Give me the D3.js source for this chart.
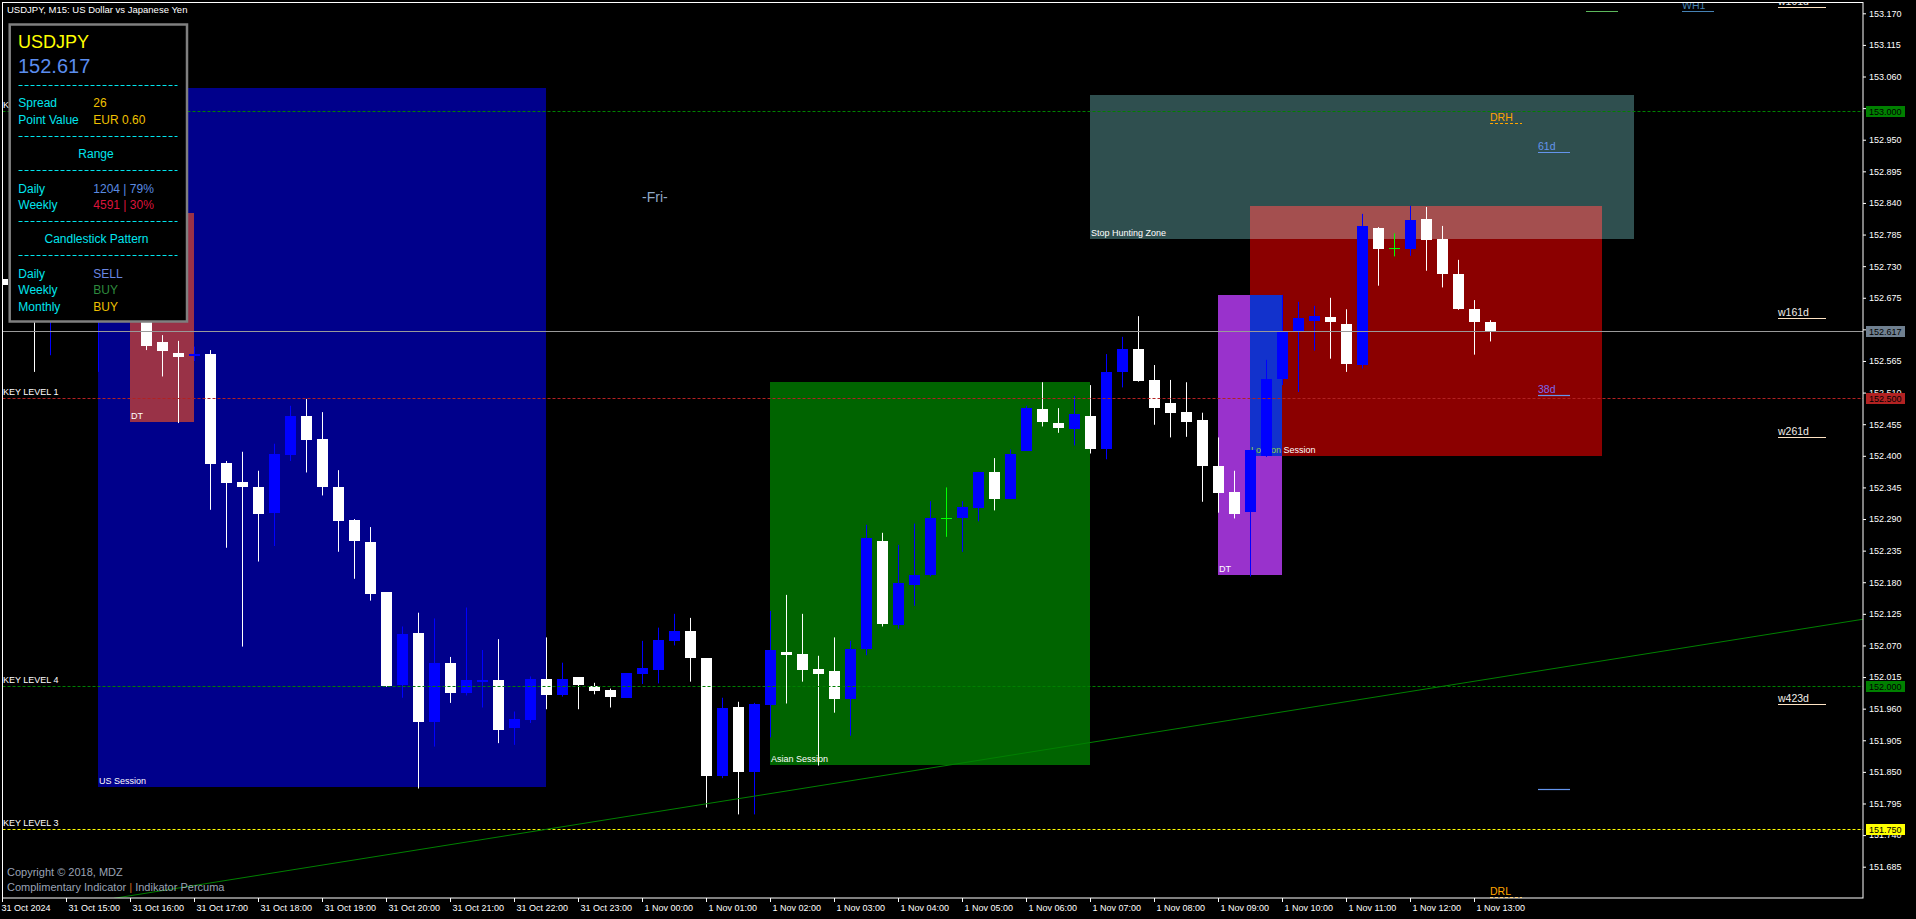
<!DOCTYPE html>
<html>
<head>
<meta charset="utf-8">
<style>
body{margin:0;background:#000;overflow:hidden}
svg{display:block}
text{font-family:"Liberation Sans",Arial,sans-serif}
</style>
</head>
<body>
<script src="https://d3js.org/d3.v7.min.js"></script>
<svg id="chart" width="1916" height="919"></svg>
<script>
// USDJPY M15 bars, 31 Oct 14:00 .. 1 Nov 13:15 (index 0 = 14:00)
const opens = [152.708,152.697,152.720,152.640,152.700,152.668,152.705,152.820,152.850,152.720,
  152.598,152.579,152.574,152.577,152.387,152.355,152.346,152.301,152.401,152.469,
  152.429,152.346,152.288,152.250,152.163,152.001,152.092,151.937,152.040,151.988,
  152.007,152.010,151.927,151.940,152.012,151.984,152.015,151.999,151.992,151.979,
  152.020,152.028,152.078,152.095,152.048,151.842,151.963,151.849,151.967,152.058,
  152.055,152.029,152.026,151.977,152.064,152.252,152.105,152.175,152.193,152.291,
  152.292,152.310,152.372,152.325,152.409,152.481,152.457,152.447,152.469,152.412,
  152.546,152.586,152.532,152.492,152.476,152.462,152.382,152.337,152.303,152.400,
  152.533,152.616,152.635,152.642,152.629,152.558,152.796,152.761,152.760,152.812,
  152.777,152.716,152.655,152.633]
const highs = [152.723,152.735,152.745,152.715,152.735,152.720,152.860,153.040,152.880,152.823,
  152.610,152.600,152.590,152.584,152.391,152.407,152.374,152.421,152.487,152.499,
  152.476,152.375,152.290,152.276,152.163,152.103,152.127,152.117,152.050,152.136,
  152.062,152.081,151.955,152.016,152.084,152.040,152.015,152.005,151.995,152.022,
  152.078,152.101,152.125,152.118,152.048,151.979,151.972,151.970,152.130,152.158,
  152.125,152.052,152.084,152.078,152.280,152.266,152.245,152.282,152.321,152.345,
  152.321,152.372,152.396,152.411,152.487,152.528,152.483,152.504,152.523,152.577,
  152.607,152.643,152.558,152.532,152.528,152.475,152.432,152.374,152.410,152.567,
  152.680,152.668,152.661,152.675,152.655,152.821,152.798,152.787,152.835,152.833,
  152.800,152.741,152.671,152.636]
const lows = [152.685,152.690,152.546,152.575,152.650,152.655,152.546,152.780,152.700,152.584,
  152.538,152.457,152.565,152.306,152.240,152.068,152.216,152.243,152.391,152.371,
  152.331,152.233,152.186,152.148,151.998,151.979,151.821,151.894,151.970,151.983,
  151.962,151.900,151.897,151.935,151.959,151.981,151.959,151.985,151.962,151.979,
  152.003,152.004,152.070,152.007,151.788,151.839,151.776,151.776,151.910,151.969,
  152.007,151.861,151.953,151.913,152.053,152.103,152.099,152.139,152.190,152.259,
  152.233,152.286,152.305,152.325,152.409,152.451,152.440,152.418,152.404,152.394,
  152.519,152.529,152.454,152.432,152.433,152.320,152.301,152.291,152.190,152.398,
  152.523,152.511,152.583,152.569,152.546,152.552,152.696,152.747,152.748,152.722,
  152.693,152.654,152.576,152.599]
const closes = [152.697,152.720,152.640,152.700,152.668,152.705,152.820,152.850,152.720,152.591,
  152.582,152.572,152.578,152.385,152.353,152.345,152.299,152.403,152.469,152.428,
  152.345,152.287,152.251,152.160,152.000,152.090,151.937,152.040,151.988,152.010,
  152.010,151.923,151.942,152.012,151.983,152.012,152.001,151.991,151.980,152.022,
  152.031,152.080,152.095,152.049,151.842,151.961,151.849,151.968,152.062,152.054,
  152.028,152.021,151.977,152.064,152.257,152.108,152.178,152.193,152.292,152.291,
  152.311,152.372,152.325,152.404,152.483,152.458,152.449,152.473,152.412,152.546,
  152.586,152.531,152.484,152.475,152.458,152.383,152.336,152.299,152.410,152.534,
  152.618,152.640,152.643,152.633,152.559,152.800,152.760,152.761,152.810,152.776,
  152.717,152.656,152.632,152.617]

const priceTicks = [153.170,153.115,153.060,153.005,152.950,152.895,152.840,152.785,152.730,152.675,
  152.620,152.565,152.510,152.455,152.400,152.345,152.290,152.235,152.180,152.125,
  152.070,152.015,151.960,151.905,151.850,151.795,151.740,151.685]
const timeTickBars = [0,4,8,12,16,20,24,28,32,36,40,44,48,52,56,60,64,68,72,76,80,84,88,92]
const timeTickLabels = ["31 Oct 2024","31 Oct 15:00","31 Oct 16:00","31 Oct 17:00","31 Oct 18:00",
  "31 Oct 19:00","31 Oct 20:00","31 Oct 21:00","31 Oct 22:00","31 Oct 23:00","1 Nov 00:00",
  "1 Nov 01:00","1 Nov 02:00","1 Nov 03:00","1 Nov 04:00","1 Nov 05:00","1 Nov 06:00",
  "1 Nov 07:00","1 Nov 08:00","1 Nov 09:00","1 Nov 10:00","1 Nov 11:00","1 Nov 12:00","1 Nov 13:00"]

// session / zone boxes
const boxNames = ["US Session","DT","Asian Session","Stop Hunting Zone","London Session","DT"]
const boxFrom = [6, 8, 48, 68, 78, 76]
const boxTo = [34, 12, 68, 102, 100, 80]
const boxHigh = [153.040, 152.823, 152.528, 153.028, 152.835, 152.680]
const boxLow = [151.823, 152.458, 151.862, 152.777, 152.400, 152.192]
const boxColors = ["#00008B","#9932CC","#006400","#2F4F4F","#8B0000","#9932CC"]

// key levels
const keyNames = ["KEY LEVEL 2","KEY LEVEL 1","KEY LEVEL 4","KEY LEVEL 3"]
const keyPrices = [153.000, 152.500, 152.000, 151.750]
const keyColors = ["#008000","#B22222","#008000","#FFFF00"]
const lastPrice = 152.617

// trend line anchors (bar, price)
const trendBars = [7, 120]
const trendPrices = [151.630, 152.132]

// right side level tags
const tagText = ["w101d","WH1","","DRH","61d","w161d","38d","w261d","w423d","","DRL"]
const tagPrice = [153.181,153.174,153.174,152.979,152.928,152.639,152.506,152.433,151.968,151.821,151.632]
const tagBar = [111,105,99,93,96,111,96,111,111,96,93]
const tagLen = [3,2,2,2,2,3,2,3,3,2,2]
const tagLine = ["#FFE4C4","#4682B4","#5CB85C","#FFA500","#6495ED","#FFE4C4","#6495ED","#FFE4C4","#FFE4C4","#6495ED","#FFA500"]
const tagFill = ["#F2EEE8","#4682B4","#5CB85C","#FFA500","#6495ED","#F2EEE8","#7B68EE","#F2EEE8","#F2EEE8","#6495ED","#FFA500"]

const svg = d3.select("#chart")
const x = d3.scaleLinear().domain([0, 93]).range([2, 1490])
const y = d3.scaleLinear().domain([151.685, 153.170]).range([866.7, 13.3])
const L = 2.5, R = 1863, T = 2.5, B = 898

svg.append("rect").attr("width",1916).attr("height",919).attr("fill","#000")
svg.append("defs").append("clipPath").attr("id","plot")
  .append("rect").attr("x",L).attr("y",T).attr("width",R-L).attr("height",B-T)
const plot = svg.append("g").attr("clip-path","url(#plot)")

function label(g, px, py, s, size, fill, anchor) {
  return g.append("text").attr("x",px).attr("y",py).attr("font-size",size)
    .attr("fill",fill).attr("text-anchor",anchor || "start").text(s)
}

// boxes, overlaps are drawn XOR style like the terminal does
const boxes = boxNames.map((n,i) => ({name:n, x0:x(boxFrom[i]), x1:x(boxTo[i]),
  y0:y(boxHigh[i]), y1:y(boxLow[i]), c:d3.color(boxColors[i])}))
boxes.forEach(b => plot.append("rect").attr("x",b.x0).attr("y",b.y0)
  .attr("width",b.x1-b.x0).attr("height",b.y1-b.y0).attr("fill",b.c.formatHex()).attr("shape-rendering","crispEdges"))
for (let i = 0; i < boxes.length; i++) for (let j = i+1; j < boxes.length; j++) {
  const a = boxes[i], b = boxes[j]
  const x0 = Math.max(a.x0,b.x0), x1 = Math.min(a.x1,b.x1), y0 = Math.max(a.y0,b.y0), y1 = Math.min(a.y1,b.y1)
  if (x1 > x0 && y1 > y0) {
    const c = d3.rgb(a.c.r ^ b.c.r, a.c.g ^ b.c.g, a.c.b ^ b.c.b)
    plot.append("rect").attr("x",x0).attr("y",y0).attr("width",x1-x0).attr("height",y1-y0)
      .attr("fill",c.formatHex()).attr("shape-rendering","crispEdges")
  }
}
boxes.forEach(b => {
  const t = plot.append("text").attr("x",b.x0+1).attr("y",b.y1-3).attr("font-size",9).attr("fill","#fff")
  if (b.name == "London Session") {
    t.append("tspan").attr("fill","#8FD14F").text("London")
    t.append("tspan").text(" Session")
  } else t.text(b.name)
})

label(plot, x(40), 202, "-Fri-", 14, "#8FA9C9")

// candles
const bars = opens.map((o,i) => ({i, o, h:highs[i], l:lows[i], c:closes[i]}))
const col = d => d.c > d.o ? "#0000FF" : d.c < d.o ? "#FFFFFF" : "#00FF00"
const cg = plot.append("g")
cg.selectAll("line.wick").data(bars).enter().append("line").attr("class","wick")
  .attr("x1",d => Math.round(x(d.i))+0.5).attr("x2",d => Math.round(x(d.i))+0.5)
  .attr("y1",d => y(d.h)).attr("y2",d => y(d.l)).attr("stroke",col).attr("stroke-width",1)
cg.selectAll("rect.body").data(bars).enter().append("rect").attr("class","body")
  .attr("x",d => Math.round(x(d.i))-5).attr("width",11)
  .attr("y",d => Math.round(y(Math.max(d.o,d.c))))
  .attr("height",d => Math.max(1, Math.round(y(Math.min(d.o,d.c))) - Math.round(y(Math.max(d.o,d.c)))))
  .attr("fill",col).attr("shape-rendering","crispEdges")

// key levels
keyPrices.forEach((p,i) => {
  const yy = Math.round(y(p)) + 0.5
  plot.append("line").attr("x1",L).attr("x2",R).attr("y1",yy).attr("y2",yy)
    .attr("stroke",keyColors[i]).attr("stroke-dasharray","3,2")
  label(plot, 3, yy-3.5, keyNames[i], 9, "#fff")
})

// bid line
plot.append("line").attr("x1",L).attr("x2",R).attr("y1",Math.round(y(lastPrice))+0.5).attr("y2",Math.round(y(lastPrice))+0.5)
  .attr("stroke","#9A9A9A")

// trend line
plot.append("line").attr("x1",x(trendBars[0])).attr("y1",y(trendPrices[0]))
  .attr("x2",x(trendBars[1])).attr("y2",y(trendPrices[1])).attr("stroke","#008000")

// level tags on the right
tagText.forEach((t,i) => {
  const x0 = x(tagBar[i]), yy = Math.round(y(tagPrice[i])) + 0.5
  const ln = plot.append("line").attr("x1",x0).attr("x2",x0 + 16*tagLen[i]).attr("y1",yy).attr("y2",yy)
    .attr("stroke",tagLine[i]).attr("stroke-width",1.2)
  if (t == "DRH" || t == "DRL") ln.attr("stroke-dasharray","3,2")
  if (t) label(plot, x0, yy-2.5, t, 10.5, tagFill[i])
})

// copyright
label(plot, 7, 876, "Copyright \u00A9 2018, MDZ", 11, "#9AA3B5")
const ct = plot.append("text").attr("x",7).attr("y",891).attr("font-size",11)
ct.append("tspan").attr("fill","#9AA3B5").text("Complimentary Indicator ")
ct.append("tspan").attr("fill","#D2691E").text("|")
ct.append("tspan").attr("fill","#9AA3B5").text(" Indikator Percuma")

// frame and axes
svg.append("rect").attr("x",L).attr("y",T).attr("width",R-L).attr("height",B-T)
  .attr("fill","none").attr("stroke","#fff")

const yAxis = d3.axisRight(y).tickValues(priceTicks).tickSize(3).tickFormat(d3.format(".3f"))
svg.append("g").attr("transform",`translate(${R},0)`).call(yAxis)
  .call(g => {
    g.select(".domain").remove()
    g.attr("font-family",null).attr("font-size",9)
    g.selectAll("line").attr("stroke","#fff")
    g.selectAll("text").attr("fill","#fff")
  })

const xAxis = d3.axisBottom(x).tickValues(timeTickBars).tickSize(4).tickFormat((d,i) => timeTickLabels[i])
svg.append("g").attr("transform",`translate(0,${B})`).call(xAxis)
  .call(g => {
    g.select(".domain").remove()
    g.attr("font-family",null).attr("font-size",9)
    g.selectAll("line").attr("stroke","#fff")
    g.selectAll("text").attr("fill","#fff").attr("text-anchor","start").attr("x",d => d == 0 ? -1 : 2)
  })

// price tags on the axis
const axisTags = keyPrices.concat([lastPrice])
const axisTagColors = keyColors.concat(["#708090"])
axisTags.forEach((p,i) => {
  const yy = Math.round(y(p))
  svg.append("rect").attr("x",R+3).attr("y",yy-5).attr("width",39).attr("height",11)
    .attr("fill",axisTagColors[i]).attr("shape-rendering","crispEdges")
  label(svg, R+6, yy+3.5, d3.format(".3f")(p), 9, "#000")
})

// title
label(svg, 7, 13, "USDJPY, M15:  US Dollar vs Japanese Yen", 9.5, "#fff")

// info panel
const panelTitle = "USDJPY"
const panelPrice = "152.617"
const panelRows = [["Spread","26"],["Point Value","EUR 0.60"]]
const rangeRows = [["Daily","1204 | 79%"],["Weekly","4591 | 30%"]]
const patternRows = [["Daily","SELL"],["Weekly","BUY"],["Monthly","BUY"]]
const rangeColors = ["#5A8BE0","#DC143C"]
const patternColors = ["#6A86E0","#2E8B3E","#F0C000"]
const cyan = "#00E5EE"

const panel = svg.append("g")
panel.append("rect").attr("x",9.7).attr("y",24.5).attr("width",177.3).attr("height",297)
  .attr("fill","#000").attr("stroke","#7F7F7F").attr("stroke-width",2.5)
label(panel, 18, 48, panelTitle, 18, "#FFFF00")
label(panel, 18, 73, panelPrice, 20, "#5B8DEF")
;[85,136,170,221,255].forEach(yy => panel.append("line").attr("x1",18.5).attr("x2",177.5)
  .attr("y1",yy+0.5).attr("y2",yy+0.5).attr("stroke",cyan).attr("stroke-dasharray","4,2"))
panelRows.forEach((r,i) => {
  label(panel, 18.3, 106.5 + i*17.3, r[0], 12, cyan)
  label(panel, 93.3, 106.5 + i*17.3, r[1], 12, "#F0C000")
})
label(panel, 96, 158, "Range", 12, cyan, "middle")
rangeRows.forEach((r,i) => {
  label(panel, 18.3, 192.5 + i*16.7, r[0], 12, cyan)
  label(panel, 93.3, 192.5 + i*16.7, r[1], 12, rangeColors[i])
})
label(panel, 96.5, 243, "Candlestick Pattern", 12, cyan, "middle")
patternRows.forEach((r,i) => {
  label(panel, 18.3, 277.5 + i*16.7, r[0], 12, cyan)
  label(panel, 93.3, 277.5 + i*16.7, r[1], 12, patternColors[i])
})
</script>
</body>
</html>
